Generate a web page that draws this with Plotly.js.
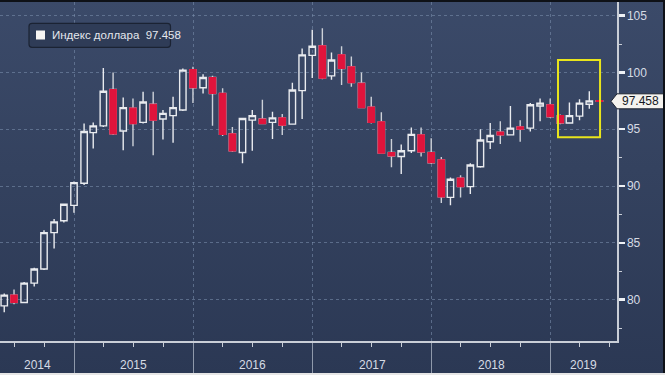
<!DOCTYPE html>
<html><head><meta charset="utf-8">
<script src="https://cdn.plot.ly/plotly-3.0.1.min.js"></script>
<style>
html,body{margin:0;padding:0;}
body{width:665px;height:375px;overflow:hidden;position:relative;
 background:linear-gradient(to bottom,#3b4a69 0%,#34425f 45%,#2b3854 100%);}
#chart{width:665px;height:375px;}
#topb{position:absolute;left:0;top:0;width:665px;height:2px;background:#0e1117;}
#rightb{position:absolute;right:0;top:0;width:2px;height:373px;background:#0e1117;}
#botb{position:absolute;left:0;bottom:0;width:665px;height:2px;background:#e6e6e6;}
</style></head><body><div id="chart"></div><div id="topb"></div><div id="rightb"></div><div id="botb"></div>
<script>
// ---- data (monthly candles) ----
const months = [
 '2014-05-31','2014-06-30','2014-07-31','2014-08-31','2014-09-30','2014-10-31','2014-11-30','2014-12-31',
 '2015-01-31','2015-02-28','2015-03-31','2015-04-30','2015-05-31','2015-06-30','2015-07-31','2015-08-31','2015-09-30','2015-10-31','2015-11-30','2015-12-31',
 '2016-01-31','2016-02-29','2016-03-31','2016-04-30','2016-05-31','2016-06-30','2016-07-31','2016-08-31','2016-09-30','2016-10-31','2016-11-30','2016-12-31',
 '2017-01-31','2017-02-28','2017-03-31','2017-04-30','2017-05-31','2017-06-30','2017-07-31','2017-08-31','2017-09-30','2017-10-31','2017-11-30','2017-12-31',
 '2018-01-31','2018-02-28','2018-03-31','2018-04-30','2018-05-31','2018-06-30','2018-07-31','2018-08-31','2018-09-30','2018-10-31','2018-11-30','2018-12-31',
 '2019-01-31','2019-02-28','2019-03-31','2019-04-30','2019-05-31'
];
const openV = [
 79.45,80.4,79.75,81.45,82.7,85.9,86.95,88.3,
 90.25,94.7,95.3,98.5,94.85,96.85,95.6,97.2,95.9,96.2,96.7,100.25,
 98.65,99.55,98.15,94.6,92.95,95.8,95.9,95.6,96.0,95.45,98.4,101.5,
 102.35,99.7,101.55,100.5,99.05,96.95,95.65,92.95,92.6,93.1,94.5,92.95,
 92.3,89.0,90.7,89.95,91.7,93.9,94.75,94.5,95.2,95.1,97.05,97.15,
 96.2,95.55,96.15,97.2,97.52
];
const highV = [
 80.55,80.9,81.55,82.8,86.1,87.1,88.45,90.4,
 95.5,95.6,100.4,100.0,97.8,97.7,98.3,98.3,96.7,97.85,100.35,100.5,
 99.85,99.7,98.6,95.2,96.0,96.7,97.6,96.55,96.35,99.1,102.1,103.75,
 103.9,101.75,102.3,101.4,100.0,97.85,96.5,94.15,93.65,95.15,95.15,94.2,
 92.55,90.75,90.95,92.0,95.0,95.55,95.7,97.05,95.8,97.3,97.7,97.7,
 96.3,97.35,97.65,98.35,97.55
];
const lowV = [
 78.9,79.6,79.7,81.15,82.6,84.5,86.8,87.65,
 90.1,93.3,95.2,94.5,93.15,93.5,95.5,92.7,94.1,93.8,96.6,97.3,
 98.15,95.3,94.4,93.0,92.0,93.1,95.45,94.15,94.5,95.4,95.9,99.5,
 99.4,99.35,98.9,98.75,96.85,95.5,92.85,91.65,91.05,92.9,92.6,91.95,
 88.5,88.3,89.0,89.3,91.6,93.25,93.7,94.5,93.9,94.8,95.7,96.0,
 95.45,95.5,95.8,96.8,97.40
];
const closeV = [
 80.4,79.75,81.45,82.7,85.9,86.85,88.4,90.3,
 94.8,95.3,98.35,94.6,96.9,95.5,97.4,95.8,96.4,96.9,100.2,98.65,
 99.55,98.15,94.55,93.1,95.95,96.2,95.5,96.0,95.35,98.45,101.55,102.3,
 99.5,101.1,100.35,99.1,96.9,95.6,92.9,92.65,93.1,94.55,93.0,92.05,
 89.05,90.6,89.95,91.85,94.05,94.45,94.5,95.1,95.0,97.15,97.3,96.1,
 95.55,96.2,97.3,97.5,97.458
];
const yearLabels = ['2014','2015','2016','2017','2018','2019'];
const seriesName = 'Индекс доллара';

// ---- layout constants ----
const W = 665, H = 375;
const M = {l:0, r:48, t:2, b:34};
const PW = W - M.l - M.r, PH = H - M.t - M.b;
const xRange = ['2014-05-18','2019-07-24'];
const yRange = [76.36, 106.2];
const RED = '#e0143c', WHITE = '#e9ebef', WICK = '#cdd1d8';
const GRID = 'rgba(120,140,170,0.6)', AXIS = '#c9ced7', TXT = '#d6dbe4';

// red bodies overlay (so wicks stay light while bodies are solid red)
const dn = closeV.map((c,i)=> c < openV[i] ? i : -1).filter(i=>i>=0);

const traces = [
 {type:'candlestick', x:months, open:openV, high:highV, low:lowV, close:closeV,
  increasing:{line:{color:WHITE,width:1.4}, fillcolor:'rgba(0,0,0,0)'},
  decreasing:{line:{color:WICK,width:1.4}, fillcolor:RED},
  whiskerwidth:0, showlegend:false, hoverinfo:'skip'},
 {type:'candlestick', x:dn.map(i=>months[i]), open:dn.map(i=>openV[i]), close:dn.map(i=>closeV[i]),
  high:dn.map(i=>openV[i]), low:dn.map(i=>closeV[i]),
  increasing:{line:{color:RED,width:1.2}, fillcolor:RED},
  decreasing:{line:{color:RED,width:1.2}, fillcolor:RED},
  whiskerwidth:0, showlegend:false, hoverinfo:'skip'}
];

// year label positions: centre of the visible part of each year
const r0 = Date.parse(xRange[0]), r1 = Date.parse(xRange[1]);
const yearMid = yearLabels.map(y => {
  const a = Math.max(r0, Date.parse(y+'-01-01'));
  const b = Math.min(r1, Date.parse((+y+1)+'-01-01'));
  return (a+b)/2;
});

// helpers for pixel -> paper
const px = x => (x - M.l)/PW;
const py = y => 1 - (y - M.t)/PH;
const vy = v => (v - yRange[0])/(yRange[1]-yRange[0]);

function roundRect(x0,y0,x1,y1,r){
  const rx=r/PW, ry=r/PH;
  const X0=px(x0),X1=px(x1),Y0=py(y0),Y1=py(y1);
  return `M${X0+rx},${Y0} L${X1-rx},${Y0} Q${X1},${Y0} ${X1},${Y0-ry} L${X1},${Y1+ry} Q${X1},${Y1} ${X1-rx},${Y1} L${X0+rx},${Y1} Q${X0},${Y1} ${X0},${Y1+ry} L${X0},${Y0-ry} Q${X0},${Y0} ${X0+rx},${Y0} Z`;
}

const last = closeV[closeV.length-1];
const lastY = vy(last), hh = 7.5/PH;
const tagPath = `M${px(611)},${lastY} L${px(617)},${lastY+hh} L${px(670)},${lastY+hh} L${px(670)},${lastY-hh} L${px(617)},${lastY-hh} Z`;

const yearAnn = yearLabels.map((t,i)=>({
  xref:'x', yref:'paper', x:yearMid[i], y:py(365), xanchor:'center', yanchor:'middle',
  text:t, showarrow:false, font:{size:12, color:TXT}
}));

const layout = {
  width:W, height:H, margin:M,
  paper_bgcolor:'rgba(0,0,0,0)', plot_bgcolor:'rgba(0,0,0,0)',
  font:{family:'Liberation Sans, Arial, sans-serif', size:12, color:TXT},
  boxgap:0.3, boxgroupgap:0,
  showlegend:false,
  xaxis:{type:'date', range:xRange, rangeslider:{visible:false},
    tickmode:'linear', tick0:'2015-01-01', dtick:'M12',
    showticklabels:false, ticks:'outside', ticklen:34, tickwidth:1, tickcolor:'#8f99ab',
    showgrid:true, gridcolor:GRID, griddash:'dot', gridwidth:1,
    minor:{dtick:'M3', tick0:'2014-01-01', ticks:'outside', ticklen:4, tickwidth:1, tickcolor:AXIS, showgrid:false},
    showline:true, linecolor:AXIS, linewidth:1.5, zeroline:false, fixedrange:true},
  yaxis:{range:yRange, side:'right', tickmode:'linear', tick0:80, dtick:5,
    ticks:'outside', ticklen:6, tickwidth:2.5, tickcolor:'#eef1f5',
    minor:{dtick:2.5, tick0:77.5, ticks:'outside', ticklen:3, tickwidth:1, tickcolor:AXIS, showgrid:false},
    showgrid:true, gridcolor:GRID, griddash:'dot', gridwidth:1,
    showline:true, linecolor:AXIS, linewidth:1.5, zeroline:false,
    tickfont:{size:12, color:TXT}, fixedrange:true},
  shapes:[
    {type:'path', xref:'paper', yref:'paper', path:roundRect(29,23.3,170.5,47.3,3),
     fillcolor:'#2f3c57', line:{color:'#1b2333', width:1.2}},
    {type:'rect', xref:'paper', yref:'paper', x0:px(36), x1:px(45), y0:py(39.5), y1:py(30.5),
     fillcolor:'#f7f5f3', line:{width:0}},
    {type:'rect', xref:'x', yref:'y', x0:'2019-01-24', x1:'2019-06-02', y0:94.29, y1:101.09,
     fillcolor:'rgba(0,0,0,0)', line:{color:'#e8e41c', width:2}},
    {type:'path', xref:'paper', yref:'paper', path:tagPath,
     fillcolor:'#f4f2ee', line:{color:'#1d2330', width:1}}
  ],
  annotations:[
    {xref:'paper', yref:'paper', x:px(50), y:py(35.3), xanchor:'left', yanchor:'middle',
     text: seriesName + '  ' + last.toFixed(3), showarrow:false,
     font:{size:11.5, color:'#e4e7ed'}},
    {xref:'paper', yref:'paper', x:px(640.5), y:lastY, xanchor:'center', yanchor:'middle',
     text: last.toFixed(3), showarrow:false, font:{size:12, color:'#15181e'}}
  ].concat(yearAnn)
};

Plotly.newPlot('chart', traces, layout, {staticPlot:true, displayModeBar:false});
</script></body></html>
